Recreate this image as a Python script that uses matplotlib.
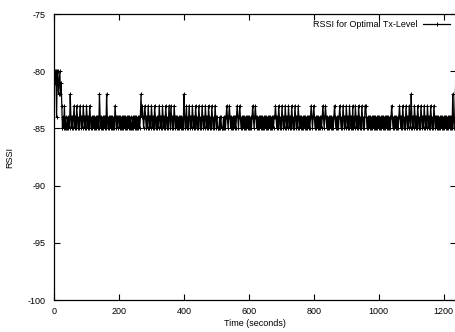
import matplotlib
matplotlib.use("Agg")
import matplotlib.pyplot as plt
import numpy as np

plt.rcParams["font.family"] = ["Liberation Sans", "DejaVu Sans"]
plt.rcParams["axes.unicode_minus"] = False

# ── data: one RSSI sample every 2 s, each digit d means -(80 + d) dBm ──
SAMPLE_STEP = 2
RSSI_DIGITS = (
    "10104002102135453545" "54545245454354534545" "34545345453454534545"
    "45454545452454545454" "52454545454545345454" "45454545454545454545"
    "54545454545454243454" "34545345453454534545" "45345453454534545345"
    "34545345454545454545" "24543545345453454534" "54534545345453454534"
    "54534545345455545455" "54545434543454545454" "54345434545454545454"
    "54545434543454545454" "54545454545454545454" "43454534545345453454"
    "53454534545345453454" "54545454545454543454" "34545454545454345434"
    "54545454545434545454" "34545345453454534545" "35453454534545345453"
    "34545454545454545454" "54545454545454545454" "34545454545434545345"
    "45345453452454534545" "34545345453454534545" "34545345454545454545"
    "45454545454545245420"
)
rssi = [-(80 + int(c)) for c in RSSI_DIGITS]
time_s = [i * SAMPLE_STEP for i in range(len(rssi))]

X_TICKS = [0, 200, 400, 600, 800, 1000, 1200]
Y_TICKS = [-100, -95, -90, -85, -80, -75]
SERIES_LABEL = "RSSI for Optimal Tx-Level"

fig = plt.figure(figsize=(4.56, 3.32), dpi=100)
ax = fig.add_axes([54 / 456, 32 / 332, 402 / 456, 286 / 332])

ax.plot(time_s, rssi, color="black", linewidth=0.9, marker="+",
        markersize=3.5, markeredgewidth=0.7, label=SERIES_LABEL)

ax.set_xlim(0, 1238)
ax.set_ylim(-100, -75)
ax.set_xticks(X_TICKS)
ax.set_yticks(Y_TICKS)
ax.tick_params(direction="in", length=4, width=0.8, labelsize=6.5,
               top=True, right=True)
ax.tick_params(axis="x", pad=5)
ax.tick_params(axis="y", pad=6)
for s in ax.spines.values():
    s.set_linewidth(0.9)

ax.set_xlabel("Time (seconds)", fontsize=6.5, labelpad=2)
ax.set_ylabel("RSSI", fontsize=6.5)
ax.yaxis.set_label_coords(-0.1, 0.5)

ax.legend(loc="upper right", markerfirst=False, frameon=False, fontsize=6.5,
          handlelength=3.0, borderaxespad=0.25, handletextpad=0.6)

fig.savefig("out.png", dpi=100, facecolor="white")
